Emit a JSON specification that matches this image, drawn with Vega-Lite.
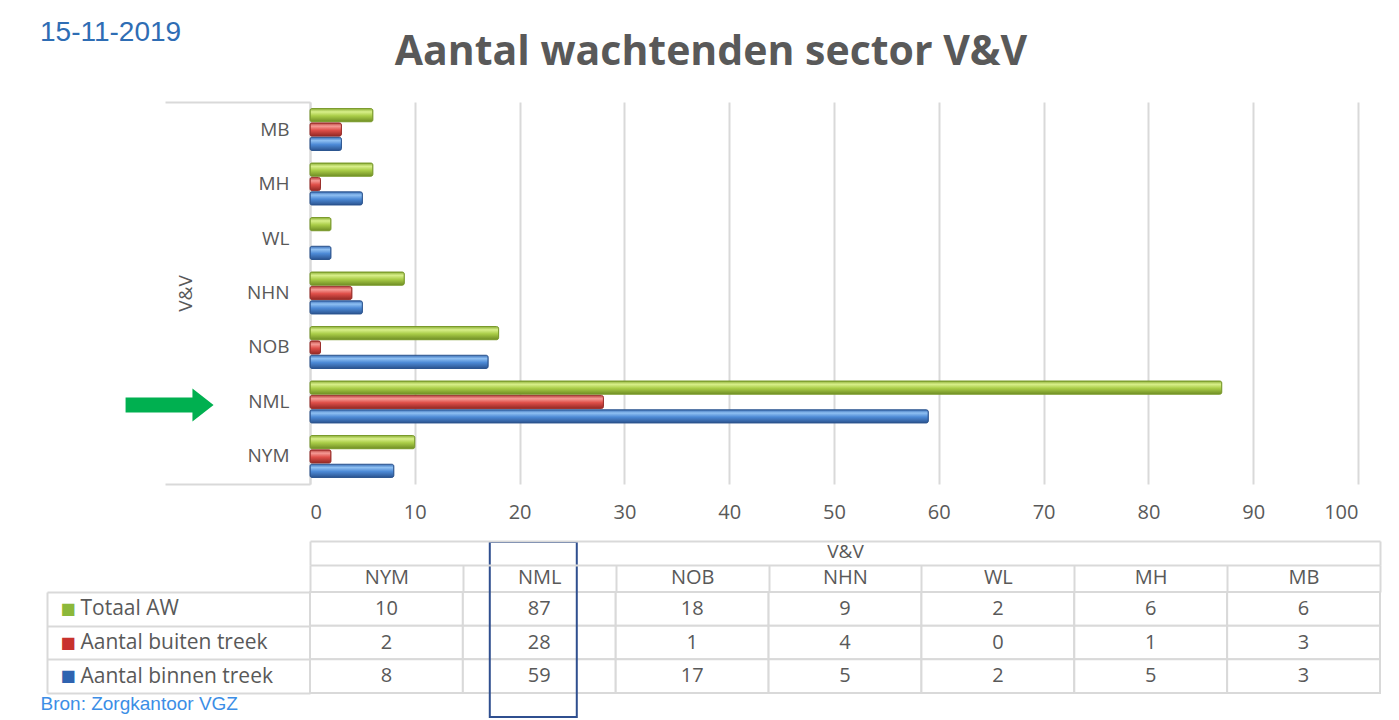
{
  "$schema": "https://vega.github.io/schema/vega-lite/v6.json",
  "padding": {"left": 40, "top": 19, "right": 5, "bottom": 0},
  "background": "white",
  "title": {"text": "15-11-2019", "anchor": "start", "fontSize": 28, "font": "Liberation Sans", "fontWeight": "normal", "color": "#2e6db4", "offset": -15},
  "config": {"view": {"stroke": null}, "font": "Open Sans"},
  "spacing": 18,
  "datasets": {
    "main": [
      {"region": "NYM", "series": "Totaal AW", "value": 10},
      {"region": "NYM", "series": "Aantal buiten treek", "value": 2},
      {"region": "NYM", "series": "Aantal binnen treek", "value": 8},
      {"region": "NML", "series": "Totaal AW", "value": 87},
      {"region": "NML", "series": "Aantal buiten treek", "value": 28},
      {"region": "NML", "series": "Aantal binnen treek", "value": 59},
      {"region": "NOB", "series": "Totaal AW", "value": 18},
      {"region": "NOB", "series": "Aantal buiten treek", "value": 1},
      {"region": "NOB", "series": "Aantal binnen treek", "value": 17},
      {"region": "NHN", "series": "Totaal AW", "value": 9},
      {"region": "NHN", "series": "Aantal buiten treek", "value": 4},
      {"region": "NHN", "series": "Aantal binnen treek", "value": 5},
      {"region": "WL", "series": "Totaal AW", "value": 2},
      {"region": "WL", "series": "Aantal buiten treek", "value": 0},
      {"region": "WL", "series": "Aantal binnen treek", "value": 2},
      {"region": "MH", "series": "Totaal AW", "value": 6},
      {"region": "MH", "series": "Aantal buiten treek", "value": 1},
      {"region": "MH", "series": "Aantal binnen treek", "value": 5},
      {"region": "MB", "series": "Totaal AW", "value": 6},
      {"region": "MB", "series": "Aantal buiten treek", "value": 3},
      {"region": "MB", "series": "Aantal binnen treek", "value": 3}
    ]
  },
  "vconcat": [
    {
      "width": 1048,
      "height": 382,
      "title": {"text": "Aantal wachtenden sector V&V", "anchor": "middle", "frame": "group", "dx": -123, "fontSize": 41, "fontWeight": "bold", "font": "Open Sans", "color": "#595959", "offset": 27},
      "layer": [
        {
          "layer": [
            {
              "data": {"name": "main"},
              "transform": [{"filter": "datum.series === 'Totaal AW' && datum.value > 0"}],
              "mark": {"type": "bar", "cornerRadius": 2, "stroke": "#7a9a2c", "strokeWidth": 1,
                "color": {"gradient": "linear", "x1": 0, "y1": 0, "x2": 0, "y2": 1, "stops": [
                  {"offset": 0, "color": "#8aad35"}, {"offset": 0.25, "color": "#d8ef8a"}, {"offset": 0.55, "color": "#aacd48"}, {"offset": 1, "color": "#6f8d24"}]}},
              "encoding": {
                "x": {"field": "value", "type": "quantitative", "scale": {"domain": [0, 100], "nice": false},
                  "axis": {"values": [0, 10, 20, 30, 40, 50, 60, 70, 80, 90, 100], "grid": true, "gridColor": "#d9d9d9", "gridWidth": 2, "ticks": false, "domain": false, "labelFontSize": 20, "labelColor": "#595959", "labelPadding": 18, "title": null, "labelFont": "Open Sans"}},
                "y": {"field": "region", "type": "nominal", "sort": ["MB", "MH", "WL", "NHN", "NOB", "NML", "NYM"], "scale": {"paddingInner": 0.23, "paddingOuter": 0.12},
                  "axis": {"title": null, "ticks": false, "domain": true, "domainColor": "#d9d9d9", "domainWidth": 2, "labelFontSize": 19, "labelColor": "#595959", "labelPadding": 21, "labelFont": "Open Sans"}},
                "yOffset": {"field": "series", "type": "nominal", "scale": {"domain": ["Totaal AW", "Aantal buiten treek", "Aantal binnen treek"], "paddingInner": 0.08}}
              }
            },
            {
              "data": {"name": "main"},
              "transform": [{"filter": "datum.series === 'Aantal buiten treek' && datum.value > 0"}],
              "mark": {"type": "bar", "cornerRadius": 2, "stroke": "#9a2e2a", "strokeWidth": 1,
                "color": {"gradient": "linear", "x1": 0, "y1": 0, "x2": 0, "y2": 1, "stops": [
                  {"offset": 0, "color": "#b8403b"}, {"offset": 0.25, "color": "#f59a95"}, {"offset": 0.55, "color": "#df4f49"}, {"offset": 1, "color": "#922824"}]}},
              "encoding": {
                "x": {"field": "value", "type": "quantitative"},
                "y": {"field": "region", "type": "nominal", "sort": ["MB", "MH", "WL", "NHN", "NOB", "NML", "NYM"]},
                "yOffset": {"field": "series", "type": "nominal"}
              }
            },
            {
              "data": {"name": "main"},
              "transform": [{"filter": "datum.series === 'Aantal binnen treek' && datum.value > 0"}],
              "mark": {"type": "bar", "cornerRadius": 2, "stroke": "#2c5590", "strokeWidth": 1,
                "color": {"gradient": "linear", "x1": 0, "y1": 0, "x2": 0, "y2": 1, "stops": [
                  {"offset": 0, "color": "#3a6fb8"}, {"offset": 0.25, "color": "#8fc0f2"}, {"offset": 0.55, "color": "#4d8ad6"}, {"offset": 1, "color": "#2b5490"}]}},
              "encoding": {
                "x": {"field": "value", "type": "quantitative"},
                "y": {"field": "region", "type": "nominal", "sort": ["MB", "MH", "WL", "NHN", "NOB", "NML", "NYM"]},
                "yOffset": {"field": "series", "type": "nominal"}
              }
            },
            {
              "data": {"values": [{"region": "NML"}]},
              "mark": {"type": "point", "shape": "M -1 -0.17 L 0.52 -0.17 L 0.52 -0.375 L 1 0 L 0.52 0.375 L 0.52 0.17 L -1 0.17 Z", "filled": true, "color": "#00b050", "opacity": 1, "size": 7744, "strokeWidth": 0, "yOffset": 3},
              "encoding": {
                "x": {"datum": -13.4, "type": "quantitative"},
                "y": {"field": "region", "type": "nominal", "sort": ["MB", "MH", "WL", "NHN", "NOB", "NML", "NYM"]}
              }
            }
          ]
        },
        {
          "data": {"values": [{"grp": "V&V"}]},
          "mark": {"type": "tick", "opacity": 0},
          "encoding": {
            "y": {"field": "grp", "type": "nominal", "scale": {"paddingInner": 0, "paddingOuter": 0},
              "axis": {"orient": "left", "title": null, "domain": false, "tickBand": "extent", "tickSize": 145, "tickColor": "#d9d9d9", "tickWidth": 2, "labelAngle": 270, "labelAlign": "center", "labelBaseline": "middle", "labelPadding": -20, "labelFontSize": 19, "labelColor": "#595959", "labelFont": "Open Sans"}}
          }
        }
      ],
      "resolve": {"scale": {"y": "independent"}, "axis": {"y": "independent"}}
    },
    {
      "width": 1070,
      "height": 101,
      "layer": [
        {
          "data": {"name": "main"},
          "encoding": {
            "x": {"field": "region", "type": "nominal", "sort": ["NYM", "NML", "NOB", "NHN", "WL", "MH", "MB"], "scale": {"paddingInner": 0, "paddingOuter": 0},
              "axis": {"orient": "top", "title": null, "tickBand": "extent", "tickSize": 27, "tickColor": "#d9d9d9", "tickWidth": 2, "domain": false, "labelPadding": -22, "labelAngle": 0, "labelFontSize": 20, "labelColor": "#595959", "labelFont": "Open Sans"}},
            "y": {"field": "series", "type": "nominal", "sort": ["Totaal AW", "Aantal buiten treek", "Aantal binnen treek"], "scale": {"paddingInner": 0, "paddingOuter": 0},
              "axis": {"title": null, "tickBand": "extent", "tickSize": 263, "tickColor": "#d9d9d9", "tickWidth": 2, "domain": false, "labelAlign": "left", "labelPadding": -33, "labelLimit": 300, "labelFontSize": 21, "labelColor": "#595959", "labelFont": "Open Sans"}}
          },
          "layer": [
            {"mark": {"type": "rect", "fill": "white", "stroke": "#d9d9d9", "strokeWidth": 2}},
            {"mark": {"type": "text", "fontSize": 20, "color": "#595959", "font": "Open Sans"}, "encoding": {"text": {"field": "value", "type": "quantitative"}}}
          ]
        },
        {
          "data": {"values": [{"region": "NML", "box": "NML"}]},
          "mark": {"type": "rect", "width": 87, "height": 175, "xOffset": -6, "yOffset": -13, "fillOpacity": 0, "fill": "white", "stroke": "#2f4f8f", "strokeWidth": 2},
          "encoding": {
            "x": {"field": "region", "type": "nominal", "scale": {"domain": ["NYM", "NML", "NOB", "NHN", "WL", "MH", "MB"], "paddingInner": 0, "paddingOuter": 0},
              "axis": {"orient": "bottom", "labels": false, "ticks": false, "domain": false, "title": "Bron: Zorgkantoor VGZ", "titleAnchor": "start", "titleAlign": "left", "titleBaseline": "top", "titleX": -270, "titleY": 1, "titleFontSize": 19, "titleFont": "Liberation Sans", "titleFontWeight": "normal", "titleColor": "#3c8ee6"}},
            "y": {"field": "box", "type": "nominal", "scale": {"paddingInner": 0, "paddingOuter": 0}, "axis": null}
          }
        },
        {
          "data": {"values": [{"grp": "V&V", "series": "Totaal AW"}, {"grp": "V&V", "series": "Aantal buiten treek"}, {"grp": "V&V", "series": "Aantal binnen treek"}]},
          "mark": {"type": "rect", "opacity": 0},
          "encoding": {
            "x": {"field": "grp", "type": "nominal", "scale": {"paddingInner": 0, "paddingOuter": 0},
              "axis": {"orient": "top", "offset": 27, "title": null, "tickBand": "extent", "tickSize": 24, "tickColor": "#d9d9d9", "tickWidth": 2, "domain": true, "domainColor": "#d9d9d9", "domainWidth": 2, "labelPadding": -20, "labelAngle": 0, "labelFontSize": 19, "labelColor": "#595959", "labelFont": "Open Sans"}},
            "y": {"field": "series", "type": "nominal", "sort": ["Totaal AW", "Aantal buiten treek", "Aantal binnen treek"], "scale": {"paddingInner": 0, "paddingOuter": 0},
              "axis": {"orient": "left", "offset": 263, "title": null, "ticks": false, "tickSize": 0, "domain": true, "domainColor": "#d9d9d9", "domainWidth": 2, "labelExpr": "'■'", "labelAlign": "right", "labelPadding": -28, "labelFontSize": 16, "labelFont": "DejaVu Sans",
                "labelColor": {"condition": [{"test": "datum.value === 'Totaal AW'", "value": "#8cb83a"}, {"test": "datum.value === 'Aantal buiten treek'", "value": "#c8322d"}], "value": "#2f63b0"}}}
          }
        },
        {
          "data": {"values": [{"t": "a"}]},
          "mark": {"type": "rect", "opacity": 0},
          "encoding": {
            "x": {"field": "t", "type": "nominal", "scale": {"paddingInner": 0, "paddingOuter": 0},
              "axis": {"orient": "top", "offset": 51, "title": null, "labels": false, "ticks": false, "domain": true, "domainColor": "#d9d9d9", "domainWidth": 2}}
          }
        }
      ],
      "resolve": {"scale": {"x": "independent", "y": "independent"}, "axis": {"x": "independent", "y": "independent"}}
    }
  ]
}
